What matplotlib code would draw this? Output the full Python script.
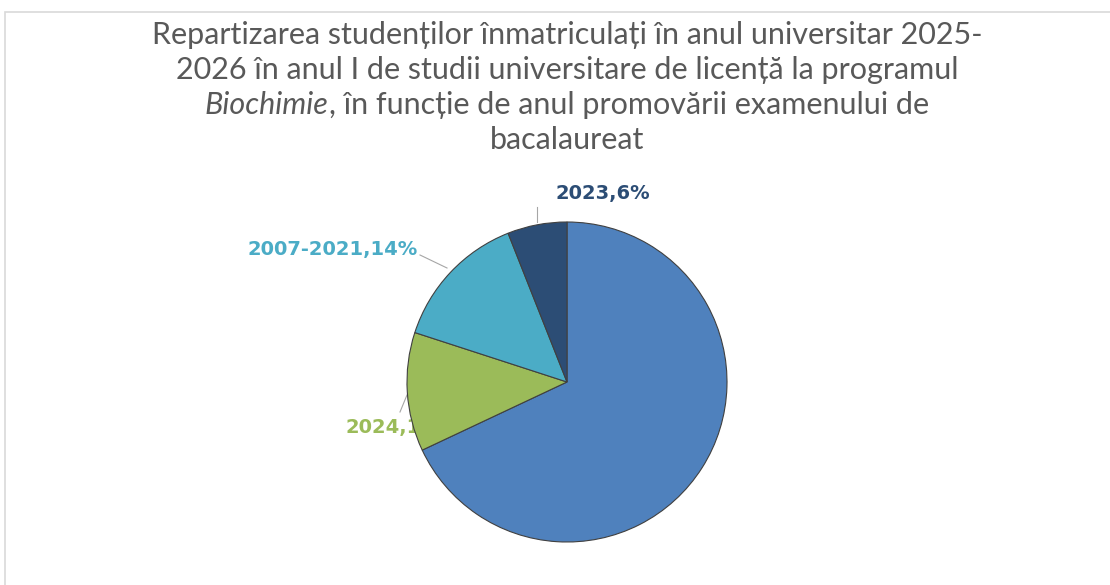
import numpy as np
import matplotlib.pyplot as plt
from matplotlib.patches import Rectangle

labels = ['2025', '2024', '2007-2021', '2023']
values = [68, 12, 14, 6]
colors = ['#4F81BD', '#9BBB59', '#4BACC6', '#2C4D75']
label_pos = [(635, 422), (400, 428), (333, 249), (603, 194)]
leaders = [None, ((400, 412), (407, 395)), ((420, 255), (447, 268)), ((537, 207), (537, 222))]

W, H = 1110, 585
fig = plt.figure(figsize=(W / 100, H / 100), dpi=100)
ax = fig.add_axes([0, 0, 1, 1])

cx, cy, r = 567, H - 382, 160
wedges, _ = ax.pie(values, colors=colors, startangle=90, counterclock=False,
                   center=(cx, cy), radius=r,
                   wedgeprops=dict(edgecolor='#404040', linewidth=0.8, zorder=3))
ax.set_xlim(0, W)
ax.set_ylim(0, H)
ax.set_aspect('equal')
ax.axis('off')

# data labels (the 2025 one is same colour as its slice, like the original)
for lab, v, c, (lx, ly), ld in zip(labels, values, colors, label_pos, leaders):
    ax.text(lx, H - ly, f'{lab},{v}%', color=c, fontsize=14, fontweight='bold',
            family='DejaVu Sans', ha='center', va='center', zorder=2)
    if ld:
        (x1, y1), (x2, y2) = ld
        ax.plot([x1, x2], [H - y1, H - y2], color='#A6A6A6', lw=0.8, zorder=1)

# title
tc = '#595959'
fs = 22
fam = ['Lato', 'DejaVu Sans']
xc = W / 2 + 12
ax.text(xc, H - 35, 'Repartizarea studenților înmatriculați în anul universitar 2025-',
        ha='center', va='center', fontsize=fs, color=tc, family=fam)
ax.text(xc, H - 70, '2026 în anul I de studii universitare de licență la programul',
        ha='center', va='center', fontsize=fs, color=tc, family=fam)
rend = fig.canvas.get_renderer()
t1 = ax.text(0, H - 105, 'Biochimie', ha='left', va='center', fontsize=fs, color=tc,
             family=fam, style='italic')
t2 = ax.text(0, H - 105, ', în funcție de anul promovării examenului de', ha='left',
             va='center', fontsize=fs, color=tc, family=fam)
w1 = t1.get_window_extent(rend).width
w2 = t2.get_window_extent(rend).width
x0 = xc - (w1 + w2) / 2
t1.set_x(x0)
t2.set_x(x0 + w1)
ax.text(xc, H - 140, 'bacalaureat', ha='center', va='center', fontsize=fs,
        color=tc, family=fam)

# chart area border
fig.patches.append(Rectangle((5 / W, -0.1), 1.1, (H - 12) / H + 0.1,
                             transform=fig.transFigure, fill=False,
                             edgecolor='#D9D9D9', lw=1.2))

fig.savefig('out.png', dpi=100)
